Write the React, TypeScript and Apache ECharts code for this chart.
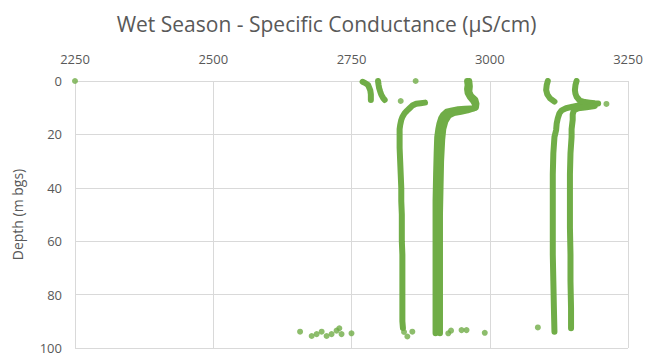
import React, { useEffect, useRef } from "react";
import * as echarts from "echarts";

// Specific conductance (µS/cm) vs depth (m bgs), read as [conductance, depth]
const profileA1: number[][] = [[2770, 0.3], [2775, 0.8], [2780, 1.5], [2782, 2.5], [2784, 3.5], [2785, 5], [2785, 7.1]];
const profileA2: number[][] = [[2798, 0], [2799, 1.5], [2800, 2.7], [2802, 4], [2804, 5.2], [2807, 6.3], [2810, 7.1]];
const profileB: number[][] = [
  [2883, 8.1], [2875, 8.3], [2867, 8.5], [2860, 9.2], [2855, 10.2], [2850, 11.2], [2846, 12.1], [2842, 13.5],
  [2840, 14.6], [2838, 16.5], [2837, 18], [2837, 20], [2837, 25], [2838, 30], [2839, 35], [2840, 40], [2840, 45],
  [2841, 50], [2841, 55], [2841, 60], [2842, 65], [2842, 70], [2842, 75], [2842, 80], [2842, 85], [2842, 90], [2843, 92.5],
];
const profileC1: number[][] = [
  [2959, 0], [2960, 1.5], [2959, 3], [2960, 4.5], [2964, 6], [2970, 7.5], [2974, 9], [2972, 10.2], [2965, 10.3],
  [2955, 10.4], [2943, 10.6], [2932, 11], [2922, 11.5], [2916, 12.6], [2912, 14], [2909, 16], [2907, 18], [2905, 21],
  [2904, 27], [2903, 35], [2902, 45], [2902, 55], [2902, 65], [2902, 75], [2902, 85], [2902, 94.5],
];
const profileC2: number[][] = [
  [2963, 0], [2964, 2], [2963, 4], [2966, 5.5], [2974, 7], [2976, 8.5], [2975, 10], [2960, 11], [2948, 11.5],
  [2935, 12], [2926, 13], [2920, 15], [2916, 18], [2914, 22], [2912, 30], [2911, 40], [2910, 50], [2910, 60],
  [2910, 70], [2910, 80], [2910, 90], [2910, 94.5],
];
const profileD1: number[][] = [[3105, 0], [3103, 1.5], [3102, 3.4], [3104, 5], [3109, 6.5], [3117, 7.7]];
const profileD2: number[][] = [
  [3165, 9], [3150, 9.6], [3138, 10.2], [3130, 11], [3126, 12.1], [3123, 14], [3121, 16], [3120, 18.4], [3117, 21],
  [3115, 27], [3114, 35], [3114, 45], [3114, 55], [3114, 65], [3115, 75], [3116, 85], [3117, 93.9],
];
const profileE1: number[][] = [
  [3157, 0], [3155, 1.5], [3154, 3.4], [3155, 4.8], [3157, 5.9], [3163, 7.4], [3172, 7.9], [3181, 8.1], [3190, 8.3], [3196, 8.4],
];
const profileE2: number[][] = [
  [3190, 9.4], [3175, 9.8], [3160, 10.2], [3152, 11], [3150, 12.5], [3150, 14.6], [3148, 18], [3148, 21], [3146, 27],
  [3145, 35], [3145, 45], [3145, 55], [3146, 65], [3146, 75], [3147, 85], [3147, 92.6],
];
const isolatedReadings: number[][] = [
  [2250, 0], [2866, 0], [2839, 7.5], [3211, 8.6], [3087, 92.3],
  [2657, 93.9], [2678, 95.5], [2687, 94.8], [2696, 93.9], [2705, 95.5], [2714, 94.8], [2723, 93.5], [2728, 92.6],
  [2732, 94.8], [2750, 94.5], [2845, 94], [2851, 95.7], [2860, 93.9], [2925, 94.5], [2930, 93.5], [2949, 93.3],
  [2958, 93.3], [2991, 94.3],
];

const profiles = [profileA1, profileA2, profileB, profileC1, profileC2, profileD1, profileD2, profileE1, profileE2];

const GREEN = "#70ad47";
const TEXT = "#595959";
const GRID = "#d9d9d9";
const FONT = "'Open Sans', Lato, sans-serif";

export default function App() {
  const ref = useRef<HTMLDivElement>(null);
  useEffect(() => {
    if (!ref.current) return;
    const chart = echarts.init(ref.current, undefined, { renderer: "svg" });
    chart.setOption({
      animation: false,
      title: {
        text: "Wet Season - Specific Conductance (µS/cm)",
        left: "center",
        top: 0,
        textStyle: { fontFamily: FONT, fontSize: 21, fontWeight: "normal", color: TEXT },
      },
      grid: { left: 67, right: 17, top: 73, bottom: 12, containLabel: false, outerBoundsMode: "none" },
      xAxis: {
        type: "value",
        position: "top",
        min: 2250,
        max: 3250,
        interval: 250,
        axisLine: { show: false },
        axisTick: { show: false },
        axisLabel: { color: TEXT, fontFamily: FONT, fontSize: 13, margin: 16, formatter: (v: number) => String(v) },
        splitLine: { show: true, lineStyle: { color: GRID, width: 1 } },
      },
      yAxis: {
        type: "value",
        inverse: true,
        min: 0,
        max: 100,
        interval: 20,
        name: "Depth (m bgs)",
        nameLocation: "middle",
        nameGap: 51,
        nameTextStyle: { color: TEXT, fontFamily: FONT, fontSize: 14 },
        axisLine: { show: true, lineStyle: { color: GRID, width: 1 } },
        axisTick: { show: false },
        axisLabel: { color: TEXT, fontFamily: FONT, fontSize: 13, margin: 13 },
        splitLine: { show: true, lineStyle: { color: GRID, width: 1 } },
      },
      series: [
        ...profiles.map((p) => ({
          type: "line",
          data: p,
          showSymbol: false,
          smooth: false,
          lineStyle: { color: GREEN, width: 6, cap: "round", join: "round" },
          itemStyle: { color: GREEN },
          silent: true,
        })),
        {
          type: "scatter",
          data: isolatedReadings,
          symbolSize: 6,
          itemStyle: { color: GREEN },
          silent: true,
        },
      ],
    });
    return () => chart.dispose();
  }, []);
  return <div ref={ref} style={{ width: 637, height: 352 }} />;
}
